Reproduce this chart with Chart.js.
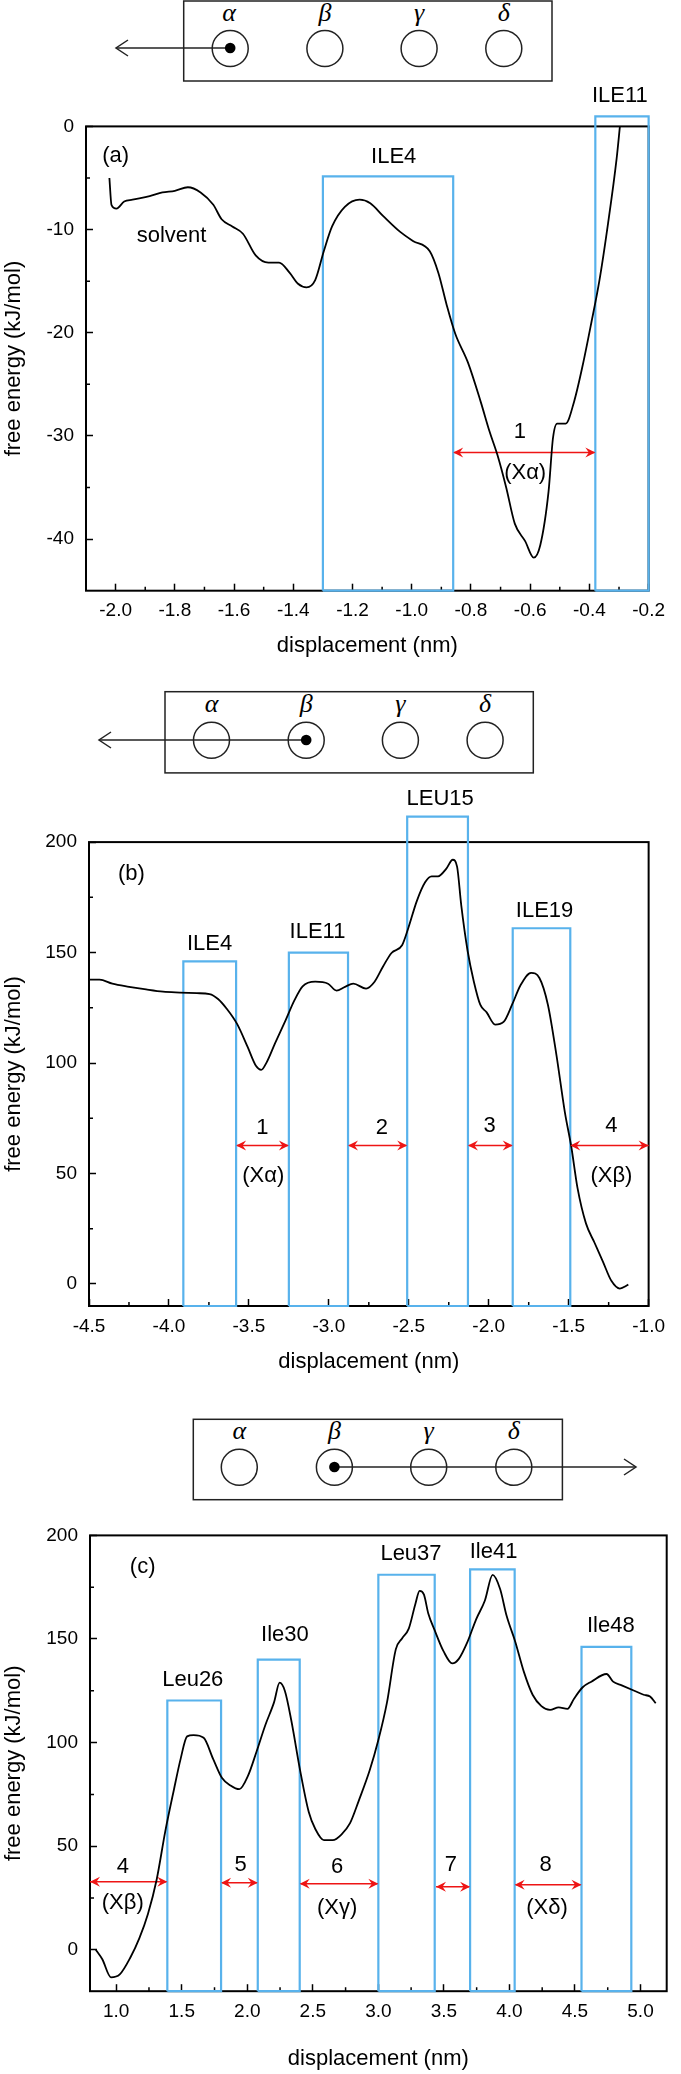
<!DOCTYPE html>
<html><head><meta charset="utf-8">
<script src="https://cdn.jsdelivr.net/npm/chart.js@4.4.1/dist/chart.umd.min.js"></script>
<style>
body{margin:0;background:#fff;}
#wrap{position:relative;width:681px;height:2074px;overflow:hidden;background:#fff;}
#wrap canvas{position:absolute;left:0;}
#sk{position:absolute;left:0;top:0;}
</style></head><body>
<div id="wrap">
<svg id="sk" width="681" height="2074" font-family="'Liberation Serif','DejaVu Serif',serif" font-style="italic" font-size="26" text-anchor="middle">
  <g fill="none" stroke="#222" stroke-width="1.5">
    <rect x="183.7" y="1" width="368.3" height="80"/>
    <circle cx="230.2" cy="48.5" r="18"/><circle cx="324.9" cy="48.5" r="18"/><circle cx="419.1" cy="48.5" r="18"/><circle cx="503.8" cy="48.5" r="18"/>
    <line x1="230.2" y1="48" x2="116" y2="48"/><polyline points="128,40 116,48 128,56"/>
    <rect x="165" y="691.7" width="368.3" height="81.2"/>
    <circle cx="211.5" cy="740.3" r="18"/><circle cx="306.2" cy="740.3" r="18"/><circle cx="400.4" cy="740.3" r="18"/><circle cx="485.1" cy="740.3" r="18"/>
    <line x1="306.2" y1="740" x2="99" y2="740"/><polyline points="111,732 99,740 111,748"/>
    <rect x="193.3" y="1419.3" width="369.1" height="80.4"/>
    <circle cx="239.3" cy="1467.3" r="18"/><circle cx="334.4" cy="1467.3" r="18"/><circle cx="428.7" cy="1467.3" r="18"/><circle cx="513.8" cy="1467.3" r="18"/>
    <line x1="334.4" y1="1467" x2="636" y2="1467"/><polyline points="624,1459 636,1467 624,1475"/>
  </g>
  <circle cx="230.2" cy="48" r="5.3" fill="#000"/>
  <circle cx="306.2" cy="740" r="5.3" fill="#000"/>
  <circle cx="334.4" cy="1467" r="5.3" fill="#000"/>
  <g dominant-baseline="middle">
    <text x="229" y="15">α</text><text x="324.9" y="15">β</text><text x="419" y="15">γ</text><text x="503.8" y="15">δ</text>
    <text x="211.5" y="706">α</text><text x="306.2" y="706">β</text><text x="400.4" y="706">γ</text><text x="485.1" y="706">δ</text>
    <text x="239.3" y="1433">α</text><text x="334.4" y="1433">β</text><text x="428.7" y="1433">γ</text><text x="513.8" y="1433">δ</text>
  </g>
</svg>
<canvas id="cA" width="681" height="600" style="top:70px"></canvas>
<canvas id="cB" width="681" height="600" style="top:780px"></canvas>
<canvas id="cC" width="681" height="569" style="top:1505px"></canvas>
</div>
<script>
// free energy profiles
const FONT="'Liberation Sans', Arial, sans-serif";
const BLUE='#58B2EC', RED='#EE1515';

// (a) alpha pulled out
const dispA=[-2.021,-2.014,-1.997,-1.971,-1.943,-1.885,-1.842,-1.8,-1.756,-1.713,-1.67,-1.642,-1.606,-1.57,-1.527,-1.484,-1.448,-1.412,-1.384,-1.355,-1.326,-1.297,-1.269,-1.226,-1.176,-1.14,-1.097,-1.04,-0.996,-0.939,-0.91,-0.882,-0.853,-0.81,-0.767,-0.738,-0.71,-0.681,-0.652,-0.617,-0.588,-0.566,-0.538,-0.523,-0.509,-0.48,-0.452,-0.423,-0.394,-0.366,-0.337,-0.308,-0.297];
const energyA=[-5.0,-7.6,-7.97,-7.28,-7.1,-6.76,-6.4,-6.24,-5.9,-6.4,-7.6,-9.0,-9.7,-10.4,-12.5,-13.2,-13.2,-14.2,-15.25,-15.6,-14.9,-12.1,-9.7,-7.8,-7.1,-7.45,-8.67,-10.2,-11.1,-12.1,-14.2,-17.3,-20.1,-22.9,-26.7,-29.5,-31.9,-35.0,-38.5,-40.2,-41.8,-40.6,-35.4,-30.2,-28.8,-28.8,-26.7,-23.2,-19.1,-14.9,-9.4,-3.1,0];
const boxLeftA=[-1.30,-0.38], boxRightA=[-0.86,-0.20], boxTopA=[-4.85,0.97];
const arrFromA=[-0.86], arrToA=[-0.38], arrYA=[-31.6];
const noteA=['ILE4','ILE11','solvent','(a)','1','(Xα)'];
const noteXA=[-1.061,-0.297,-1.811,-2.0,-0.635,-0.617];
const noteYA=[-2.94,2.94,-10.63,-2.84,-29.6,-33.6];
const xTicksA=[-2.0,-1.8,-1.6,-1.4,-1.2,-1.0,-0.8,-0.6,-0.4,-0.2];
const yTicksA=[-40,-30,-20,-10,0];

// (b) beta pulled out
const dispB=[-4.5,-4.434,-4.354,-4.249,-4.143,-4.037,-3.931,-3.825,-3.746,-3.693,-3.64,-3.574,-3.508,-3.455,-3.423,-3.389,-3.336,-3.27,-3.217,-3.164,-3.085,-3.005,-2.952,-2.899,-2.847,-2.767,-2.714,-2.661,-2.608,-2.542,-2.503,-2.45,-2.397,-2.357,-2.317,-2.265,-2.225,-2.198,-2.172,-2.132,-2.093,-2.053,-2.013,-1.96,-1.907,-1.854,-1.802,-1.735,-1.683,-1.63,-1.577,-1.524,-1.484,-1.444,-1.392,-1.339,-1.286,-1.233,-1.18,-1.127];
const energyB=[137.7,137.7,135.9,134.5,133.3,132.3,131.9,131.6,131.2,129,124.7,117.7,107.3,98.6,96.9,100.3,109,119.4,128.1,134.7,136.8,135.9,132.8,134.5,135.9,133.7,136.8,143.7,149.8,153.3,161.1,173.3,181.9,184.5,184.5,188,192,188.9,171.5,150.7,136.8,126.4,122.9,117.4,118.6,126.4,135.1,140.8,138.5,126.4,103.8,77.8,62.2,43.1,27.4,18.75,10.1,1.4,-2.1,-0.35];
const boxLeftB=[-3.91,-3.25,-2.51,-1.85], boxRightB=[-3.58,-2.88,-2.13,-1.49], boxTopB=[146,150,211.5,161];
const arrFromB=[-3.58,-2.88,-2.13,-1.49], arrToB=[-3.25,-2.51,-1.85,-1.0], arrYB=[62.7,62.7,62.7,62.7];
const noteB=['ILE4','ILE11','LEU15','ILE19','(b)','1','2','3','4','(Xα)','(Xβ)'];
const noteXB=[-3.746,-3.071,-2.304,-1.651,-4.235,-3.415,-2.669,-1.995,-1.233,-3.41,-1.233];
const noteYB=[154,159.4,219.6,169,185.8,70.8,70.8,71.7,71.7,49.1,49.1];
const xTicksB=[-4.5,-4.0,-3.5,-3.0,-2.5,-2.0,-1.5,-1.0];
const yTicksB=[0,50,100,150,200];

// (c) beta pushed through
const dispC=[0.844,0.894,0.96,1.027,1.109,1.176,1.242,1.308,1.375,1.441,1.491,1.541,1.59,1.667,1.74,1.806,1.872,1.939,2.005,2.071,2.138,2.204,2.247,2.287,2.337,2.403,2.469,2.519,2.585,2.652,2.718,2.784,2.851,2.934,3.0,3.066,3.133,3.182,3.232,3.282,3.315,3.348,3.381,3.431,3.498,3.564,3.614,3.68,3.746,3.813,3.872,3.929,3.978,4.045,4.111,4.177,4.244,4.31,4.376,4.443,4.493,4.559,4.625,4.741,4.791,4.857,4.957,5.024,5.073,5.116];
const energyC=[0,-4.6,-13.3,-11.9,-3.6,5.5,17.3,33.7,57.4,77.5,92,103,103.6,102.3,92,83,79.3,77.5,83.9,95.7,108.5,119.4,128.9,124.9,110.3,86.6,66.5,58.3,52.9,52.9,55.6,61.1,72,86.6,101.2,119.4,145,150.4,155,166.8,173.2,171.4,162.3,154,144,138.2,140.4,148.6,159.5,168.6,180.9,174.1,161.3,148.6,134,123.1,117.6,115.8,117,116.3,121.2,126.7,129.4,133.1,129.4,127.6,124.9,123.1,122.2,119];
const boxLeftC=[1.39,2.08,3.0,3.70,4.55], boxRightC=[1.80,2.40,3.43,4.04,4.93], boxTopC=[120.3,140,181,183.6,146.2];
const arrFromC=[0.8,1.80,2.40,3.44,4.04], arrToC=[1.39,2.08,3.0,3.70,4.55], arrYC=[32.8,32.3,31.9,30.4,31.4];
const noteC=['Leu26','Ile30','Leu37','Ile41','Ile48','(c)','4','(Xβ)','5','6','(Xγ)','7','8','(Xδ)'];
const noteXC=[1.584,2.287,3.249,3.879,4.774,1.202,1.05,1.05,1.949,2.685,2.685,3.554,4.277,4.287];
const noteYC=[130.4,151.9,191,192,156.4,184.7,40.1,22.8,41,40.1,20.1,41,41,20.1];
const xTicksC=[1.0,1.5,2.0,2.5,3.0,3.5,4.0,4.5,5.0];
const yTicksC=[0,50,100,150,200];

function minorVals(major,min,max){
  const step=major[1]-major[0], out=[];
  const first=major[0]-step/2; if(first>min+1e-9) out.push(first);
  major.forEach(m=>{const v=m+step/2; if(v<max-1e-9) out.push(v);});
  return out;
}

// frame + minor ticks
const framePlugin={id:'frame',beforeDatasetsDraw(chart){
  const {ctx,chartArea:a,scales:{x,y}}=chart;
  ctx.save();
  ctx.strokeStyle='#000';ctx.lineWidth=2;
  ctx.strokeRect(a.left,a.top,a.right-a.left,a.bottom-a.top);
  ctx.lineWidth=1.5;ctx.beginPath();
  minorVals(x.ticks.map(t=>t.value),x.min,x.max).forEach(v=>{const p=x.getPixelForValue(v);ctx.moveTo(p,a.bottom);ctx.lineTo(p,a.bottom-4);});
  minorVals(y.ticks.map(t=>t.value),y.min,y.max).forEach(v=>{const p=y.getPixelForValue(v);ctx.moveTo(a.left,p);ctx.lineTo(a.left+4,p);});
  ctx.stroke();ctx.restore();
}};

function head(ctx,x,y,dir){
  ctx.beginPath();ctx.moveTo(x,y);ctx.lineTo(x-dir*10,y-5);ctx.lineTo(x-dir*6.5,y);ctx.lineTo(x-dir*10,y+5);ctx.closePath();ctx.fill();
}

function notesPlugin(txt,xs,ys){
  return {id:'notes',afterDatasetsDraw(chart){
    const {ctx,scales:{x,y}}=chart;
    ctx.save();
    ctx.fillStyle=RED;
    chart.data.datasets.forEach((d,i)=>{
      if(!d.arrow)return;
      const pts=chart.getDatasetMeta(i).data;
      head(ctx,pts[0].x,pts[0].y,-1);head(ctx,pts[1].x,pts[1].y,1);
    });
    ctx.fillStyle='#000';ctx.font='22px '+FONT;ctx.textAlign='center';ctx.textBaseline='middle';
    txt.forEach((t,i)=>ctx.fillText(t,x.getPixelForValue(xs[i]),y.getPixelForValue(ys[i])));
    ctx.restore();
  }};
}

function panel(id,P){
  const ds=[{data:P.xs.map((x,i)=>({x,y:P.ys[i]})),borderColor:'#000',borderWidth:1.8,pointRadius:0,cubicInterpolationMode:'monotone'}];
  P.boxL.forEach((l,i)=>{
    const r=P.boxR[i],t=P.boxT[i],b=P.yMin;
    ds.push({data:[{x:l,y:b},{x:l,y:t},{x:r,y:t},{x:r,y:b},{x:l,y:b}],borderColor:BLUE,borderWidth:2.2,pointRadius:0,tension:0,clip:false});
  });
  P.arrFrom.forEach((f,i)=>{
    ds.push({data:[{x:f,y:P.arrY[i]},{x:P.arrTo[i],y:P.arrY[i]}],borderColor:RED,borderWidth:1.5,pointRadius:0,clip:false,arrow:true});
  });
  const half=13.2; // half line height of 22px title
  const tickFont={family:FONT,size:19};
  const grid={drawOnChartArea:false,tickLength:-7,tickWidth:1.5,tickColor:'#000'};
  new Chart(document.getElementById(id),{
    type:'line',
    data:{datasets:ds},
    options:{
      responsive:false,devicePixelRatio:1,animation:false,
      layout:{padding:{left:0,right:681-P.right,top:P.top-P.cTop,bottom:P.cTop+P.cH-(P.titleY+half)}},
      plugins:{legend:{display:false},tooltip:{enabled:false}},
      scales:{
        x:{type:'linear',min:P.xMin,max:P.xMax,
          afterBuildTicks:s=>{s.ticks=P.xTicks.map(v=>({value:v}));},
          afterFit:s=>{s.height=P.titleY+half-P.bottom;},
          ticks:{callback:v=>v.toFixed(1),font:tickFont,color:'#000',padding:16,maxRotation:0,autoSkip:false},
          grid:grid,border:{display:false},
          title:{display:true,text:'displacement (nm)',font:{family:FONT,size:22},color:'#000',padding:0}},
        y:{type:'linear',min:P.yMin,max:P.yMax,
          afterBuildTicks:s=>{s.ticks=P.yTicks.map(v=>({value:v}));},
          afterFit:s=>{s.width=P.left;},
          ticks:{callback:v=>String(v),font:tickFont,color:'#000',padding:19,autoSkip:false},
          grid:grid,border:{display:false},
          title:{display:true,text:'free energy (kJ/mol)',font:{family:FONT,size:22},color:'#000',padding:{top:1,bottom:0}}}
      }
    },
    plugins:[framePlugin,notesPlugin(P.notes,P.noteX,P.noteY)]
  });
}

panel('cA',{xs:dispA,ys:energyA,boxL:boxLeftA,boxR:boxRightA,boxT:boxTopA,arrFrom:arrFromA,arrTo:arrToA,arrY:arrYA,
  notes:noteA,noteX:noteXA,noteY:noteYA,xTicks:xTicksA,yTicks:yTicksA,xMin:-2.1,xMax:-0.2,yMin:-45,yMax:0,
  cTop:70,cH:600,left:86,right:663,top:126.4,bottom:590.7,titleY:646});
panel('cB',{xs:dispB,ys:energyB,boxL:boxLeftB,boxR:boxRightB,boxT:boxTopB,arrFrom:arrFromB,arrTo:arrToB,arrY:arrYB,
  notes:noteB,noteX:noteXB,noteY:noteYB,xTicks:xTicksB,yTicks:yTicksB,xMin:-4.5,xMax:-1.0,yMin:-10,yMax:200,
  cTop:780,cH:600,left:89,right:664.5,top:842.1,bottom:1306,titleY:1362});
panel('cC',{xs:dispC,ys:energyC,boxL:boxLeftC,boxR:boxRightC,boxT:boxTopC,arrFrom:arrFromC,arrTo:arrToC,arrY:arrYC,
  notes:noteC,noteX:noteXC,noteY:noteYC,xTicks:xTicksC,yTicks:yTicksC,xMin:0.8,xMax:5.2,yMin:-20,yMax:200,
  cTop:1505,cH:569,left:90,right:666.7,top:1527,bottom:1991.2,titleY:2059.4});
</script>
</body></html>
